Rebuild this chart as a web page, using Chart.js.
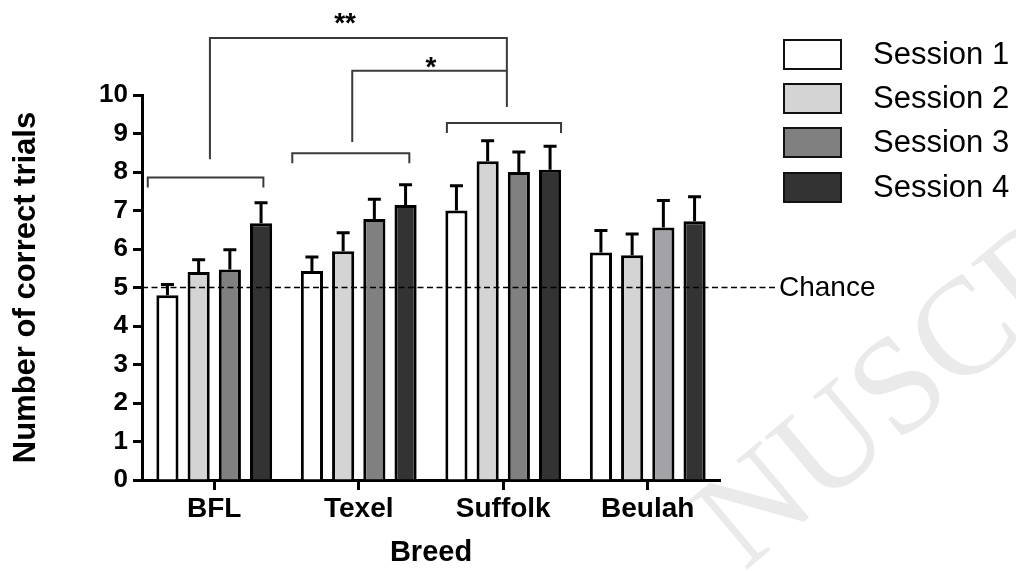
<!DOCTYPE html>
<html>
<head>
<meta charset="utf-8">
<script src="https://cdn.jsdelivr.net/npm/chart.js"></script>
<style>
  html, body { margin: 0; padding: 0; background: #fff; }
  canvas { display: block; }
</style>
</head>
<body>
<canvas id="sheepChart" width="1016" height="571"></canvas>
<script>
// Data
const breeds = ['BFL', 'Texel', 'Suffolk', 'Beulah'];
const sessionLabels = ['Session 1', 'Session 2', 'Session 3', 'Session 4'];
const session1 = [4.80, 5.43, 7.00, 5.91];
const session2 = [5.40, 5.94, 8.28, 5.84];
const session3 = [5.47, 6.78, 8.00, 6.56];
const session4 = [6.67, 7.14, 8.06, 6.72];
const sem1 = [0.28, 0.36, 0.64, 0.57];
const sem2 = [0.32, 0.48, 0.53, 0.55];
const sem3 = [0.51, 0.51, 0.52, 0.70];
const sem4 = [0.53, 0.53, 0.61, 0.64];
const yTicks = [0, 1, 2, 3, 4, 5, 6, 7, 8, 9, 10];
const chanceLevel = 5;

// Significance brackets: x in category units, y in trial units
const groupBrackets = [
  { x0: -0.46, x1: 0.34, y: 7.86, leg: 7.60 },
  { x0: 0.54, x1: 1.35, y: 8.49, leg: 8.23 },
  { x0: 1.61, x1: 2.40, y: 9.27, leg: 9.01 }
];
const sigBrackets = [
  { x0: -0.03, x1: 2.025, y: 11.48, leftLeg: 8.33, rightLeg: 9.69, label: '**', labelX: 0.905, labelY: 12.0 },
  { x0: 0.955, x1: 2.025, y: 10.63, leftLeg: 8.78, rightLeg: 10.63, label: '*', labelX: 1.50, labelY: 10.85 }
];

const FONT = "'Liberation Sans', Arial, Helvetica, sans-serif";
const sessionColors = ['#ffffff', '#d4d4d4', '#808080', '#333333'];
const session3Colors = ['#808080', '#808080', '#808080', '#a3a3a7'];

const seriesValues = [session1, session2, session3, session4];
const seriesErrors = [sem1, sem2, sem3, sem4];

// Pixel position for a fractional category index
function catPixel(xScale, idx) {
  const p0 = xScale.getPixelForValue(0);
  const p1 = xScale.getPixelForValue(1);
  return p0 + (p1 - p0) * idx;
}

const extrasPlugin = {
  id: 'extras',
  beforeDraw(chart) {
    // faint watermark of the manuscript
    const ctx = chart.ctx;
    ctx.save();
    ctx.translate(744, 572);
    ctx.rotate(-40 * Math.PI / 180);
    ctx.fillStyle = '#eaeaea';
    ctx.font = "138px 'Liberation Serif', 'DejaVu Serif', serif";
    ctx.textBaseline = 'alphabetic';
    ctx.fillText('NUSCRIPT', 0, 0);
    ctx.restore();
  },
  afterDatasetsDraw(chart) {
    const ctx = chart.ctx;
    const xScale = chart.scales.x;
    const yScale = chart.scales.y;
    const area = chart.chartArea;

    // error bars (upper only)
    ctx.save();
    ctx.strokeStyle = '#000';
    ctx.lineWidth = 3;
    ctx.lineCap = 'butt';
    seriesValues.forEach((vals, di) => {
      const meta = chart.getDatasetMeta(di);
      meta.data.forEach((bar, i) => {
        const yTop = yScale.getPixelForValue(vals[i]);
        const yErr = yScale.getPixelForValue(vals[i] + seriesErrors[di][i]);
        ctx.beginPath();
        ctx.moveTo(bar.x, yTop);
        ctx.lineTo(bar.x, yErr);
        ctx.moveTo(bar.x - 6.5, yErr);
        ctx.lineTo(bar.x + 6.5, yErr);
        ctx.stroke();
      });
    });
    ctx.restore();

    // chance line
    const yc = yScale.getPixelForValue(chanceLevel);
    ctx.save();
    ctx.strokeStyle = '#000';
    ctx.lineWidth = 1.5;
    ctx.setLineDash([6, 3.5]);
    ctx.beginPath();
    ctx.moveTo(area.left, yc);
    ctx.lineTo(area.right + 56, yc);
    ctx.stroke();
    ctx.setLineDash([]);
    ctx.fillStyle = '#000';
    ctx.font = '28px ' + FONT;
    ctx.textAlign = 'left';
    ctx.textBaseline = 'middle';
    ctx.fillText('Chance', area.right + 59, yc + 1);
    ctx.restore();

    // brackets
    ctx.save();
    ctx.strokeStyle = '#3a3a3a';
    ctx.lineWidth = 2;
    groupBrackets.forEach(b => {
      const x0 = catPixel(xScale, b.x0), x1 = catPixel(xScale, b.x1);
      const y = yScale.getPixelForValue(b.y), yl = yScale.getPixelForValue(b.leg);
      ctx.beginPath();
      ctx.moveTo(x0, yl);
      ctx.lineTo(x0, y);
      ctx.lineTo(x1, y);
      ctx.lineTo(x1, yl);
      ctx.stroke();
    });
    sigBrackets.forEach(b => {
      const x0 = catPixel(xScale, b.x0), x1 = catPixel(xScale, b.x1);
      const y = yScale.getPixelForValue(b.y);
      ctx.beginPath();
      ctx.moveTo(x0, yScale.getPixelForValue(b.leftLeg));
      ctx.lineTo(x0, y);
      ctx.lineTo(x1, y);
      ctx.lineTo(x1, yScale.getPixelForValue(b.rightLeg));
      ctx.stroke();
      // star label centred on its glyph box
      ctx.fillStyle = '#000';
      ctx.font = 'bold 28px ' + FONT;
      ctx.textAlign = 'center';
      ctx.textBaseline = 'alphabetic';
      const m = ctx.measureText(b.label);
      const cy = yScale.getPixelForValue(b.labelY);
      ctx.fillText(b.label, catPixel(xScale, b.labelX), cy + (m.actualBoundingBoxAscent - m.actualBoundingBoxDescent) / 2);
    });
    ctx.restore();

    // legend
    ctx.save();
    const boxX = 784, boxW = 57, boxH = 29;
    const rowTops = [40, 84, 128, 173];
    sessionLabels.forEach((label, i) => {
      const top = rowTops[i];
      ctx.fillStyle = sessionColors[i];
      ctx.fillRect(boxX, top, boxW, boxH);
      ctx.strokeStyle = '#111';
      ctx.lineWidth = 2;
      ctx.strokeRect(boxX, top, boxW, boxH);
      ctx.fillStyle = '#000';
      ctx.font = '31px ' + FONT;
      ctx.textAlign = 'left';
      ctx.textBaseline = 'middle';
      ctx.fillText(label, 873, top + boxH / 2 + 1);
    });
    ctx.restore();
  }
};

const ctx = document.getElementById('sheepChart').getContext('2d');
new Chart(ctx, {
  type: 'bar',
  data: {
    labels: breeds,
    datasets: seriesValues.map((vals, i) => ({
      label: sessionLabels[i],
      data: vals,
      backgroundColor: i === 2 ? session3Colors : sessionColors[i],
      borderColor: '#000',
      borderWidth: 3,
      categoryPercentage: 0.864,
      barPercentage: 0.71
    }))
  },
  options: {
    responsive: false,
    animation: false,
    layout: { padding: { left: 0, right: 296, top: 95, bottom: 0 } },
    plugins: {
      legend: { display: false },
      tooltip: { enabled: false }
    },
    scales: {
      x: {
        afterFit: (scale) => { scale.height = 91; },
        grid: {
          offset: false,
          drawOnChartArea: false,
          drawTicks: true,
          tickLength: 10,
          tickColor: '#000',
          tickWidth: 3
        },
        border: { display: true, color: '#000', width: 3 },
        ticks: {
          color: '#000',
          padding: 2,
          font: { family: FONT, size: 28, weight: 'bold' }
        },
        title: {
          display: true,
          text: 'Breed',
          color: '#000',
          font: { family: FONT, size: 29, weight: 'bold' },
          padding: { top: 0, bottom: 1 }
        }
      },
      y: {
        min: 0,
        max: 10,
        afterFit: (scale) => { scale.width = 142; },
        afterBuildTicks: (scale) => { scale.ticks = yTicks.map(v => ({ value: v })); },
        grid: {
          drawOnChartArea: false,
          drawTicks: true,
          tickLength: 9,
          tickColor: '#000',
          tickWidth: 3
        },
        border: { display: true, color: '#000', width: 3 },
        ticks: {
          color: '#000',
          padding: 5,
          font: { family: FONT, size: 26, weight: 'bold' }
        },
        title: {
          display: true,
          text: 'Number of correct trials',
          color: '#000',
          font: { family: FONT, size: 31, weight: 'bold' },
          padding: { top: 8, bottom: 0 }
        }
      }
    }
  },
  plugins: [extrasPlugin]
});
</script>
</body>
</html>
